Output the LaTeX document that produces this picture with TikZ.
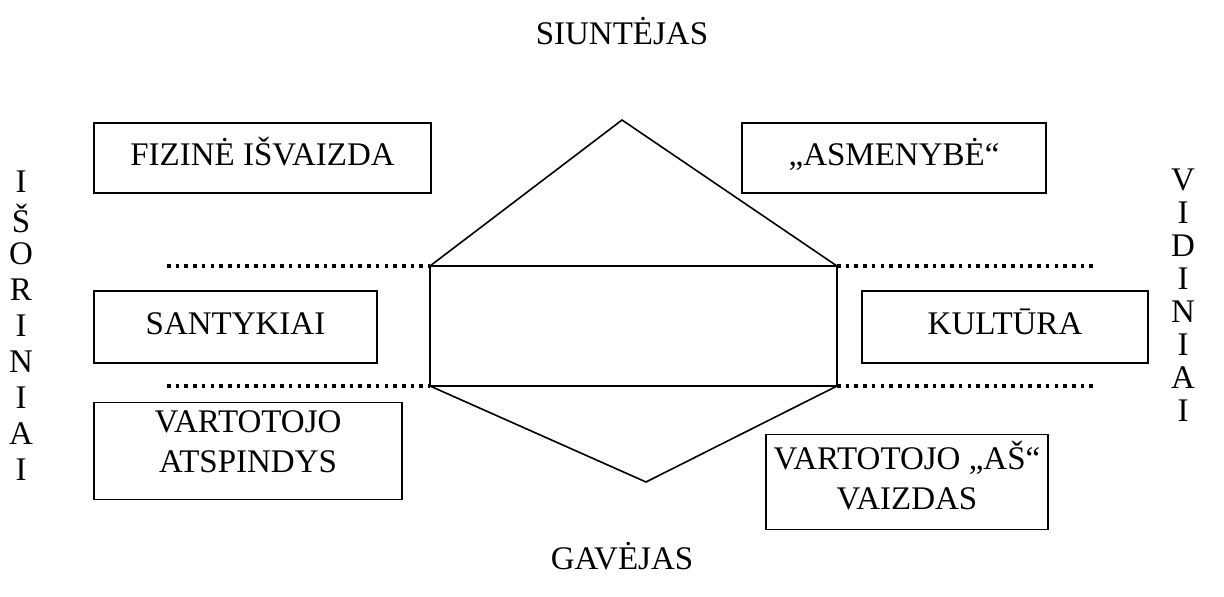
\documentclass[tikz,border=0pt]{standalone}
\usepackage{fontspec}
\setmainfont{Liberation Serif}
\begin{document}
\begin{tikzpicture}[x=1pt,y=-1pt,
  every node/.style={font=\fontsize{33}{40}\selectfont, inner sep=0pt},
  box/.style={draw, line width=1.6pt, text height=22pt, text depth=8pt},
  twobox/.style={draw, line width=1.6pt, align=center},
  plain/.style={},
  hexline/.style={line width=1.6pt, line join=miter},
  dotline/.style={line width=3.5pt, dash pattern=on 3.6pt off 5.1pt}]
\useasboundingbox (0,0) rectangle (1224,597);
% titles
\node[plain] (snd) at (622,31) {SIUNTĖJAS};
\node[plain] (rcv) at (622,556) {GAVĖJAS};
% boxes
\node[box, minimum width=337pt, minimum height=70pt] (fiz) at (262.5,158) {FIZINĖ IŠVAIZDA};
\node[box, minimum width=304pt, minimum height=70pt] (asm) at (894,158) {„ASMENYBĖ“};
\node[box, minimum width=283pt, minimum height=72pt] (san) at (235.5,327) {SANTYKIAI};
\node[box, minimum width=286pt, minimum height=72pt] (kul) at (1005,327) {KULTŪRA};
\node[twobox, text height=50pt, text depth=8pt, minimum width=308pt, minimum height=97pt] (atsp) at (248,451) {VARTOTOJO\\ATSPINDYS};
\node[twobox, text height=60pt, text depth=6pt, minimum width=282pt, minimum height=95pt] (as) at (907,482) {VARTOTOJO „AŠ“\\VAIZDAS};
% hexagon
\coordinate (top) at (622,120);
\coordinate (lt) at (430,266);
\coordinate (rt) at (837,266);
\coordinate (lb) at (430,386);
\coordinate (rb) at (837,386);
\coordinate (bot) at (646,482);
\draw[hexline] (lt) -- (top) -- (rt) -- (rb) -- (bot) -- (lb) -- cycle;
\draw[hexline] (lt) -- (rt);
\draw[hexline] (lb) -- (rb);
% dotted lines
\coordinate (dl1) at (167,266);
\coordinate (dl2) at (167,386);
\coordinate (dr1) at (1097,266);
\coordinate (dr2) at (1097,386);
\draw[dotline] (dl1) -- (lt);
\draw[dotline] (dl2) -- (lb);
\draw[dotline] (rt) -- (dr1);
\draw[dotline] (rb) -- (dr2);
% vertical words
\foreach \ch [count=\i from 0] in {I,Š,O,R,I,N,I,A,I}
  \node[plain] (L\i) at (21,182+36*\i) {\ch};
\foreach \ch [count=\i from 0] in {V,I,D,I,N,I,A,I}
  \node[plain] (R\i) at (1183,180+33*\i) {\ch};
\end{tikzpicture}
\end{document}
